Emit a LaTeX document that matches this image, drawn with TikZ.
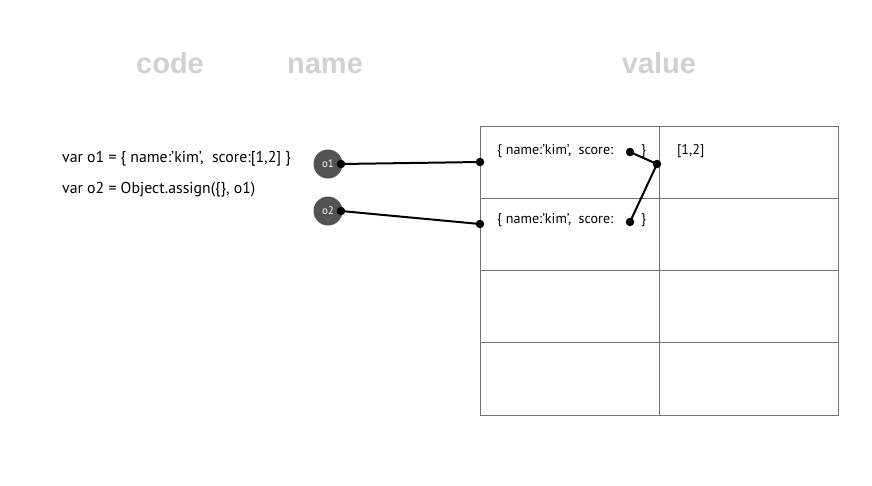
\documentclass[tikz,border=0pt]{standalone}
\usepackage{fontspec}
\setmainfont{PT Sans}
\newfontfamily\headfont{Liberation Sans}
\begin{document}
\begin{tikzpicture}[x=1pt,y=-1pt,
  header/.style={font=\headfont\bfseries\fontsize{29}{31}\selectfont, text=black!18, anchor=base},
  codeline/.style={font=\fontsize{15.8}{18}\selectfont, anchor=west, inner sep=0pt},
  cell/.style={font=\fontsize{14.1}{16}\selectfont, anchor=west, inner sep=0pt},
  var/.style={circle, fill=black!68, text=white, minimum size=29pt, inner sep=0pt, font=\fontsize{11}{12}\selectfont},
  dot/.style={circle, fill=black, minimum size=8.5pt, inner sep=0pt},
  link/.style={line width=2pt}]
\useasboundingbox (0,0) rectangle (872,485);

% column headers
\node[header] (hcode) at (170,73) {code};
\node[header] (hname) at (325,73) {name};
\node[header] (hvalue) at (659,73) {value};

% source lines
\node[codeline] (line1) at (62,159) {var o1 = \{ name:’kim’,\ \ score:[1,2] \}};
\node[codeline] (line2) at (62,190) {var o2 = Object.assign(\{\}, o1)};

% memory table
\draw[black!55, line width=0.6pt] (480,126) rectangle (838,415);
\foreach \yy in {198,270,342} \draw[black!55, line width=0.6pt] (480,\yy) -- (838,\yy);
\draw[black!55, line width=0.6pt] (659,126) -- (659,415);

% cell contents
\node[cell] (obj1) at (497,151) {\{ name:’kim’,\ \ score:};
\node[cell] (close1) at (641,151) {\}};
\node[cell] (obj2) at (497,220) {\{ name:’kim’,\ \ score:};
\node[cell] (close2) at (641,220) {\}};
\node[cell] (arr) at (677,151) {[1,2]};

% variables
\node[var] (o1) at (328,164) {o1};
\node[var] (o2) at (328,211) {o2};

% reference dots
\node[dot] (o1d) at (341,164) {};
\node[dot] (o2d) at (341,211) {};
\node[dot] (in1) at (480,162) {};
\node[dot] (in2) at (480,224) {};
\node[dot] (s1) at (630,152) {};
\node[dot] (s2) at (630,222) {};
\node[dot] (arrin) at (657,164) {};

% references
\draw[link] (o1d.center) -- (in1.center);
\draw[link] (o2d.center) -- (in2.center);
\draw[link] (s1.center) -- (arrin.center);
\draw[link] (s2.center) -- (arrin.center);
\end{tikzpicture}
\end{document}
